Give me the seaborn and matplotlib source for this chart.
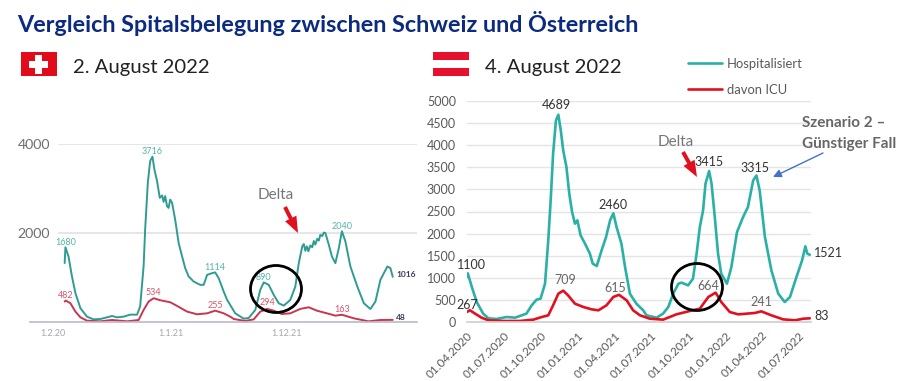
import numpy as np
import pandas as pd
import seaborn as sns
import matplotlib.pyplot as plt
from matplotlib.patches import Rectangle, Ellipse
from matplotlib.transforms import ScaledTranslation

# Schweiz, Tage seit 1.2.20
ch_hosp_days = [59, 61, 69, 78, 87, 100, 117, 134, 152, 169, 182, 195, 212, 229, 247, 255, 264, 268, 275, 281, 287,
                292, 299, 306, 312, 316, 320, 325, 329, 333, 338, 346, 355, 364, 372, 381, 394, 411, 420, 429, 442, 450, 459, 472,
                481, 502, 524, 537, 554, 567, 576, 589, 602, 615, 628, 645, 658, 667, 676, 680, 684, 688, 692, 697, 702, 706, 710, 715, 719, 723,
                728, 732, 736, 745, 753, 762, 771, 779, 788, 801, 819, 836, 853, 866, 879, 897, 905, 911]
ch_hosp = [1324, 1680, 1474, 1023, 647, 308, 120, 60, 68, 105, 135, 105, 120, 165, 165, 346, 1248, 2075, 3128, 3617,
           3716, 3429, 3166, 2790, 2843, 2700, 2830, 2600, 2564, 2750, 2677, 2300, 1775, 1474, 1211, 1023, 910, 835, 835, 1060, 1098,
           1114, 985, 684, 496, 195, 75, 90, 270, 722, 890, 835, 609, 421, 368, 496, 797, 1323, 1700, 1752, 1600, 1700, 1590,
           1720, 1680, 1820, 1740, 1870, 1830, 1960, 1930, 2010, 2000, 1737, 1474, 1323, 1662, 2040, 1812, 1248, 797, 421, 293, 459, 947, 1248, 1210, 1016]
ch_icu_days = [59, 62, 74, 87, 100, 117, 152, 182, 221, 251, 264, 277, 290, 307, 333, 351, 377, 403, 429, 450, 472,
               489, 498, 528, 550, 567, 585, 602, 623, 645, 671, 693, 714, 740, 762, 779, 810, 848, 879, 911]
ch_icu = [459, 482, 421, 233, 105, 30, 15, 45, 15, 45, 270, 459, 534, 489, 444, 361, 233, 173, 195, 255, 195,
          120, 68, 23, 60, 233, 294, 255, 180, 195, 294, 331, 255, 195, 143, 163, 83, 15, 45, 48]

# Oesterreich, Tage seit 01.04.2020
at_hosp_days = [0, 2, 12, 24, 40, 53, 73, 98, 119, 147, 160, 172, 182, 193, 201, 207, 213, 220, 226, 232, 238, 246,
                253, 260, 267, 273, 281, 292, 304, 311, 321, 333, 344, 354, 362, 370, 382, 391, 403, 419, 436, 444,
                469, 485, 498, 510, 523, 531, 547, 559, 568, 576, 584, 590, 599, 605, 613, 621, 629, 643, 654, 668,
                683, 695, 708, 716, 724, 737, 753, 770, 786, 799, 815, 829, 837, 842, 848]
at_hosp = [1018, 1100, 792, 452, 189, 83, 68, 113, 98, 189, 377, 505, 528, 867, 1847, 2752, 3808, 4562, 4689, 4335,
           3883, 3506, 2903, 2488, 2224, 2300, 1960, 1772, 1546, 1320, 1267, 1621, 1923, 2300, 2460, 2149, 1772, 1244,
           641, 415, 264, 151, 98, 189, 339, 641, 867, 890, 829, 980, 1546, 2149, 2526, 3129, 3415, 3129, 2375, 1546,
           1093, 867, 1244, 2036, 2375, 2601, 3205, 3315, 2978, 1923, 1169, 641, 452, 565, 1018, 1395, 1712, 1546, 1521]
at_icu_days = [0, 7, 20, 36, 53, 90, 131, 164, 185, 201, 213, 226, 238, 250, 267, 288, 308, 325, 345, 362, 376, 395,
               411, 428, 452, 485, 518, 551, 576, 597, 615, 629, 650, 671, 712, 728, 753, 782, 811, 832, 848]
at_icu = [226, 267, 189, 98, 38, 23, 23, 53, 113, 151, 377, 641, 709, 603, 415, 339, 287, 264, 377, 566, 615, 490,
          264, 151, 75, 53, 173, 249, 302, 566, 664, 452, 226, 173, 204, 241, 151, 60, 38, 75, 83]

ch_start = pd.Timestamp("2020-02-01")
at_start = pd.Timestamp("2020-04-01")

ch_ticks = ["2020-02-01", "2021-01-01", "2021-12-01"]
ch_tick_labels = ["1.2.20", "1.1.21", "1.12.21"]
ch_yticks = [2000, 4000]
at_ticks = pd.date_range("2020-04-01", "2022-07-01", freq="3MS")
at_yticks = list(range(0, 5001, 500))

W, H = 919, 381
TEAL_L, RED_L = "#2f9c92", "#c9364f"
TEAL_R, RED_R = "#2bb0a6", "#e2101f"

sns.set_theme(style="white")
plt.rcParams['font.family'] = ['Lato', 'DejaVu Sans']

fig = plt.figure(figsize=(W / 100, H / 100), dpi=100)


def box(x0, y_top, x1, y_bottom):
    return [x0 / W, 1 - y_bottom / H, (x1 - x0) / W, (y_bottom - y_top) / H]


def when(start, days):
    return start + pd.to_timedelta(np.array(days), unit="D")


def peak(ax, dates, vals, v, dx, dy, color, size, weight="normal"):
    i = list(vals).index(v)
    ax.annotate(str(v), xy=(dates[i], v), xytext=(dx, dy), textcoords="offset pixels", ha="center", va="center",
                color=color, fontsize=size, fontweight=weight, annotation_clip=False)


# linke Grafik
ax1 = fig.add_axes(box(30, 144, 417, 322))
d1, d2 = when(ch_start, ch_hosp_days), when(ch_start, ch_icu_days)
ax1.hlines(ch_yticks, ch_start + pd.Timedelta(days=41), ch_start + pd.Timedelta(days=974), color="#e6e6e8", lw=1.4)
sns.lineplot(x=d1, y=ch_hosp, ax=ax1, color=TEAL_L, linewidth=1.4, errorbar=None)
sns.lineplot(x=d2, y=ch_icu, ax=ax1, color=RED_L, linewidth=1.4, errorbar=None)
ax1.set_xlim(ch_start - pd.Timedelta(days=31), ch_start + pd.Timedelta(days=974))
ax1.set_ylim(0, 4000)
ax1.set_yticks(ch_yticks)
ax1.set_xticks(pd.to_datetime(ch_ticks), ch_tick_labels)
ax1.tick_params(axis="y", length=0, pad=-14.5, labelsize=10.2, labelcolor="#6e6e6e")
ax1.tick_params(axis="x", direction="in", length=6.5, width=1, color="#dddddd", pad=5, labelsize=6.5,
                labelcolor="#a6a6ae")
for lab, dx in zip(ax1.get_xticklabels(), [11, 0, -13]):
    lab.set_transform(lab.get_transform() + ScaledTranslation(dx / 100, 0, fig.dpi_scale_trans))
for s in ["top", "left", "right"]:
    ax1.spines[s].set_visible(False)
ax1.spines["bottom"].set_color("#b9b9c9")
ax1.spines["bottom"].set_linewidth(1.2)
ax1.set_xlabel("")
ax1.set_ylabel("")
for v, dy in [(1680, 5), (3716, 5), (1114, 5), (890, 5), (2040, 5)]:
    peak(ax1, d1, ch_hosp, v, 0, dy, "#55b3a9", 6.5)
for v, dy in [(482, 5), (534, 6), (255, 5), (294, 6), (163, 5)]:
    peak(ax1, d2, ch_icu, v, 0, dy, "#d4566b", 6.5)
peak(ax1, d1, ch_hosp, 1016, 13, 2, "#3c3c58", 6, "bold")
peak(ax1, d2, ch_icu, 48, 8, 2, "#3c3c58", 6, "bold")

# rechte Grafik
ax2 = fig.add_axes(box(467, 101, 811, 322))
d3, d4 = when(at_start, at_hosp_days), when(at_start, at_icu_days)
sns.lineplot(x=d3, y=at_hosp, ax=ax2, color=TEAL_R, linewidth=1.9, errorbar=None, label="Hospitalisiert")
sns.lineplot(x=d4, y=at_icu, ax=ax2, color=RED_R, linewidth=1.9, errorbar=None, label="davon ICU")
ax2.set_xlim(at_start, at_start + pd.Timedelta(days=851))
ax2.set_ylim(0, 5000)
ax2.set_yticks(at_yticks)
ax2.set_xticks(at_ticks, at_ticks.strftime("%d.%m.%Y"), rotation=45, ha="right", rotation_mode="anchor")
ax2.grid(axis="y", color="#e4e4e4", lw=1)
ax2.set_axisbelow(True)
ax2.tick_params(axis="y", length=0, pad=8, labelsize=9, labelcolor="#595959")
ax2.tick_params(axis="x", length=2.5, width=0.8, color="#c8c8c8", pad=3, labelsize=8.5, labelcolor="#595959")
for s in ["top", "left", "right"]:
    ax2.spines[s].set_visible(False)
ax2.spines["bottom"].set_color("#d0d0d0")
ax2.set_xlabel("")
ax2.set_ylabel("")
ax2.legend(loc="upper left", bbox_to_anchor=(688 / W, 1 - 58 / H), bbox_transform=fig.transFigure, frameon=False,
           fontsize=9.4, labelcolor="#595959", handlelength=2.6, handletextpad=0.35, labelspacing=1.05,
           borderpad=0, borderaxespad=0)
for v, dx, dy, c in [(1100, 4, 8, "#333333"), (4689, -2, 10, "#333333"), (2460, 0, 8, "#333333"),
                     (3415, 0, 9, "#333333"), (3315, -1, 7, "#333333"), (1521, 19, 2, "#333333")]:
    peak(ax2, d3, at_hosp, v, dx, dy, c, 9)
for v, dx, dy, c in [(267, -3, 5, "#333333"), (709, 2, 11, "#666666"), (615, -4, 7, "#666666"),
                     (664, -7, 7, "#666666"), (241, 0, 9, "#666666"), (83, 12, 2, "#333333")]:
    peak(ax2, d4, at_icu, v, dx, dy, c, 9)

# Ueberschriften, Flaggen, Markierungen in Bildpunkten
over = fig.add_axes([0, 0, 1, 1])
over.set_xlim(0, W)
over.set_ylim(H, 0)
over.axis("off")
over.patch.set_alpha(0)

over.text(17, 23, "Vergleich Spitalsbelegung zwischen Schweiz und Österreich", color="#0b2a80", fontsize=16.8,
          fontweight="bold", va="center")
over.text(73, 67, "2. August 2022", color="#222222", fontsize=14.6, va="center")
over.text(485, 68, "4. August 2022", color="#222222", fontsize=14.6, va="center")

over.add_patch(Rectangle((21, 52), 36, 24, color="#e30a1c", lw=0))
over.add_patch(Rectangle((29, 60.5), 19, 7, color="white", lw=0))
over.add_patch(Rectangle((35, 54.5), 7, 19, color="white", lw=0))
over.add_patch(Rectangle((433, 52), 36, 8, color="#e8112d", lw=0))
over.add_patch(Rectangle((433, 68), 36, 8, color="#e8112d", lw=0))

over.add_patch(Ellipse((276, 289), 51, 47, fill=False, ec="black", lw=2))
over.add_patch(Ellipse((697, 287), 51, 47, fill=False, ec="black", lw=2))

over.text(276, 195, "Delta", color="#777777", fontsize=11, ha="center", va="center")
over.text(676, 142, "Delta", color="#777777", fontsize=11, ha="center", va="center")
over.text(802, 123, "Szenario 2 –", color="#666666", fontsize=11, fontweight="bold", va="center")
over.text(802, 144, "Günstiger Fall", color="#666666", fontsize=11, fontweight="bold", va="center")

red_arrow = dict(arrowstyle="simple,head_width=0.7,head_length=0.9,tail_width=0.22", color="#e2101f", lw=0,
                 shrinkA=0, shrinkB=0, mutation_scale=13)
over.annotate("", xy=(298, 233), xytext=(285, 207), arrowprops=red_arrow)
over.annotate("", xy=(697, 177), xytext=(683, 152), arrowprops=red_arrow)
over.annotate("", xy=(773, 177), xytext=(823, 153), arrowprops=dict(arrowstyle="-|>", color="#4472c4", lw=1,
                                                                    shrinkA=0, shrinkB=0))

plt.savefig("out.png", dpi=100)
